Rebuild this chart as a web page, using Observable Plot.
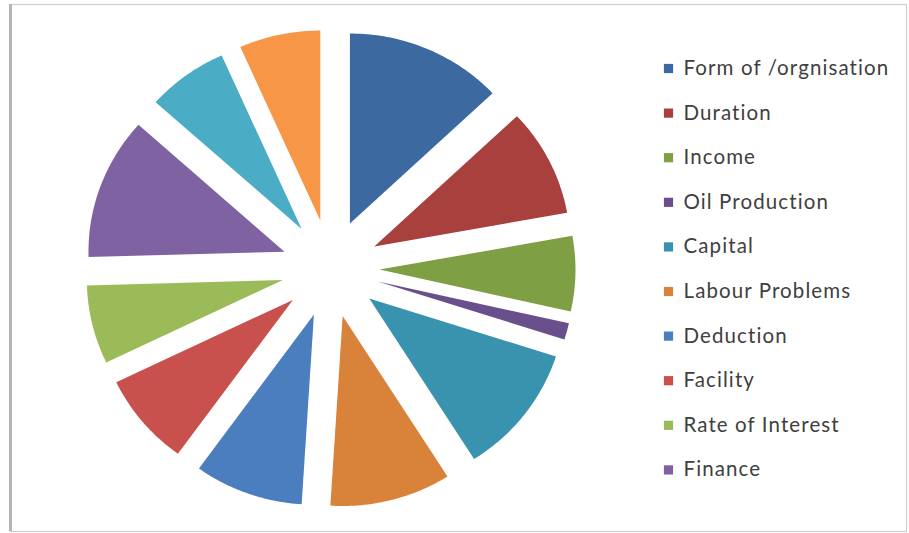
<!DOCTYPE html>
<html>
<head>
<meta charset="utf-8">
<script src="https://cdn.jsdelivr.net/npm/d3@7"></script>
<script src="https://cdn.jsdelivr.net/npm/@observablehq/plot@0.6"></script>
<style>
  html, body { margin: 0; padding: 0; background: #fff; }
  #chart { width: 909px; height: 533px; }
  #chart text.legend-label, #chart g.legend-label text { letter-spacing: 1.1px; }
</style>
</head>
<body>
<div id="chart"></div>
<script>
// ---- data (shares of the pie) ----
const categories = [
  "Form of /orgnisation", "Duration", "Income", "Oil Production", "Capital",
  "Labour Problems", "Deduction", "Facility", "Rate of Interest", "Finance",
  "Category 11", "Category 12"
];
const values = [13, 9.2, 6.4, 1.4, 11.1, 10, 9, 7.9, 6.7, 12.1, 6.7, 6.7];
const legendCategories = categories.slice(0, 10);
const colors = [
  "#3c69a0", "#a8403d", "#7f9f45", "#6a4f8d", "#3a93ae", "#d9823a",
  "#4a7ebf", "#c8504d", "#9bbb59", "#7f62a1", "#4bacc6", "#f79646"
];

// ---- layout ----
const W = 909, H = 533;
const cx = 330, cy = 268, Rx = 196, Ry = 190, explode = 49;

const arcs = d3.pie().sort(null).value(d => d.value)
  .startAngle(0).endAngle(2 * Math.PI)(categories.map((c, i) => ({cat: c, value: values[i]})));

const wedgePts = [];
for (const a of arcs) {
  const mid = (a.startAngle + a.endAngle) / 2;
  const ox = cx + explode * Math.sin(mid), oy = cy - explode * Math.cos(mid);
  wedgePts.push({cat: a.data.cat, x: ox, y: oy});
  const n = Math.max(4, Math.ceil((a.endAngle - a.startAngle) * 180 / Math.PI));
  for (let k = 0; k <= n; k++) {
    const t = a.startAngle + (a.endAngle - a.startAngle) * k / n;
    wedgePts.push({cat: a.data.cat, x: ox + Rx * Math.sin(t), y: oy - Ry * Math.cos(t)});
  }
  wedgePts.push({cat: a.data.cat, x: ox, y: oy});
}

const legendX = 668, legendY0 = 68, legendStep = 44.6;
const legend = legendCategories.map((c, i) => ({cat: c, x: legendX, y: legendY0 + i * legendStep}));

const plot = Plot.plot({
  width: W, height: H,
  margin: 0,
  x: {domain: [0, W], range: [0, W], axis: null},
  y: {domain: [0, H], range: [0, H], axis: null},
  color: {domain: categories, range: colors},
  style: {fontFamily: "Lato, 'Open Sans', sans-serif", background: "#fff"},
  marks: [
    Plot.frame({stroke: "#cfcfcf", strokeWidth: 1.2, insetLeft: 10, insetTop: 4, insetRight: 3, insetBottom: 2}),
    Plot.ruleX([10], {stroke: "#b5b5b5", strokeWidth: 3, y1: 4, y2: H - 2}),
    Plot.line(wedgePts, {x: "x", y: "y", z: "cat", fill: "cat", stroke: "none", curve: "linear"}),
    Plot.dot(legend, {x: "x", y: "y", fill: "cat", symbol: "square", r: 5.2, stroke: "none"}),
    Plot.text(legend, {x: "x", y: "y", text: "cat", dx: 15, textAnchor: "start", fontSize: 20.5, fill: "#404040", className: "legend-label"})
  ]
});
document.getElementById("chart").appendChild(plot);
</script>
</body>
</html>
